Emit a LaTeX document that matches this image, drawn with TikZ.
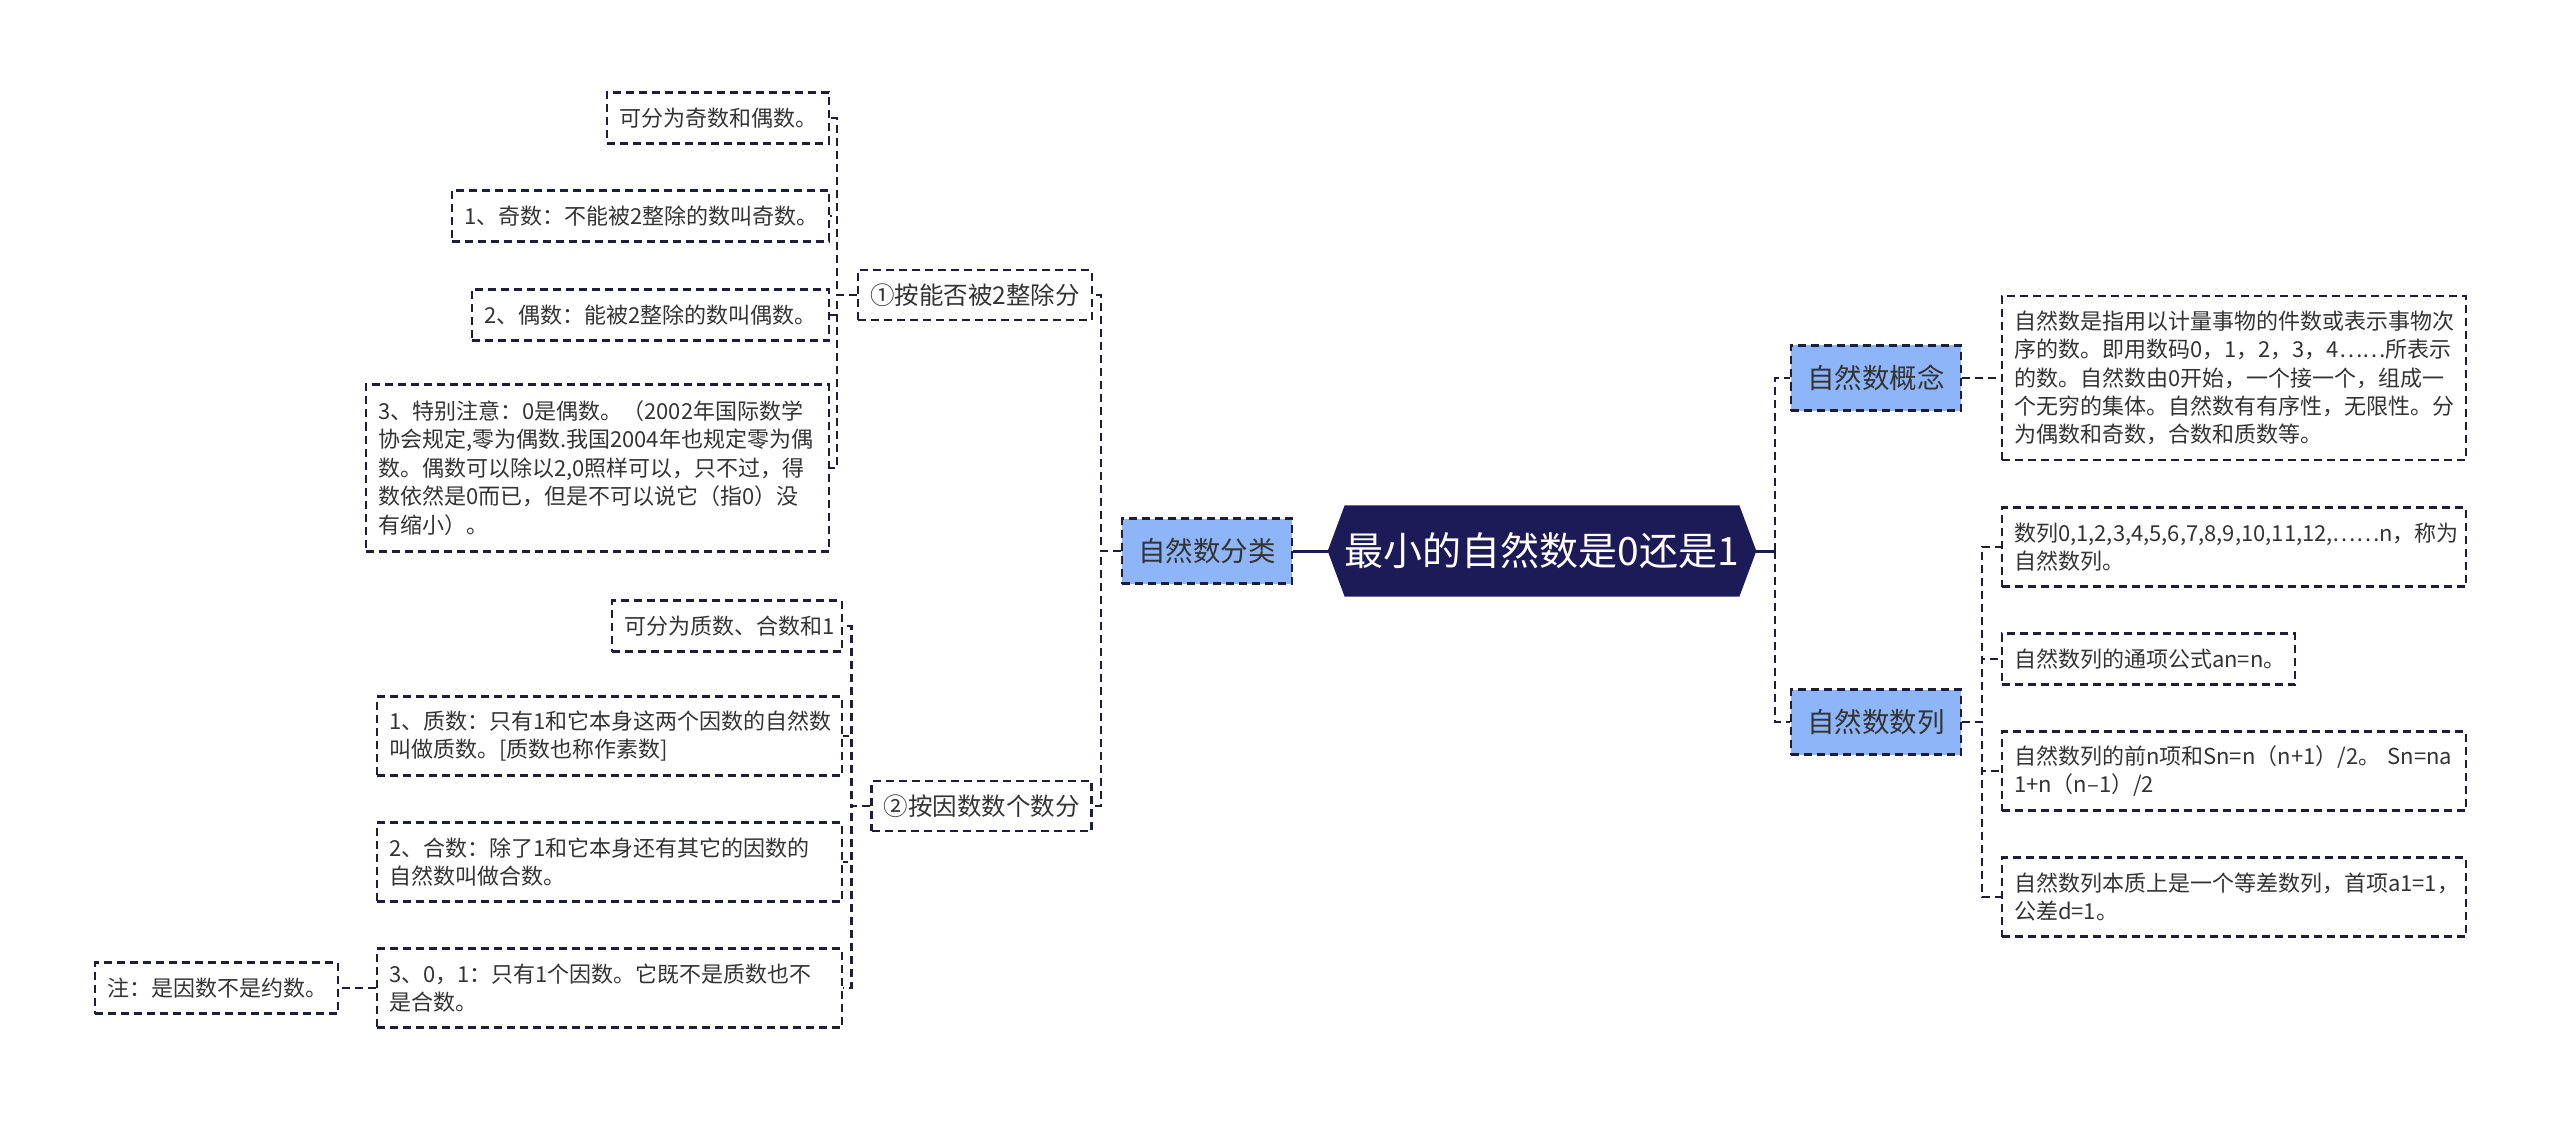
\documentclass[tikz,border=0pt]{standalone}
\usepackage{fontspec}
\setmainfont{Noto Sans CJK SC}
\usetikzlibrary{calc,backgrounds}
\definecolor{rootc}{HTML}{1D1B57}
\definecolor{linec}{HTML}{1E1E3A}
\definecolor{mainc}{HTML}{8DB5F8}
\definecolor{textc}{HTML}{333333}

\begin{document}
\begin{tikzpicture}[x=1pt,y=-1pt,
  leaf/.style={draw=linec,line width=2.2pt,dash pattern=on 8pt off 5pt,text=textc,
    align=left,inner xsep=12pt,inner ysep=0pt,font=\fontsize{22}{28.4}\selectfont},
  sub/.style={leaf,align=center,font=\fontsize{24.5}{30}\selectfont,minimum height=50pt},
  main/.style={draw=linec,line width=2.2pt,dash pattern=on 8pt off 5pt,fill=mainc,text=textc,
    font=\fontsize{27.5}{33}\selectfont,minimum width=170pt,minimum height=65pt,inner sep=0pt},
  rootbox/.style={text=white,font=\fontsize{39}{46}\selectfont,minimum width=386pt,
    minimum height=91pt,inner sep=0pt},
  link/.style={draw=linec,line width=2.2pt,dash pattern=on 8pt off 5pt},
  trunk/.style={draw=rootc,line width=3pt}]
  \useasboundingbox (0,0) rectangle (2560,1123);

  % centre
  \node[rootbox] (root) at (1542,551) {最小的自然数是0还是1};
  \coordinate (rootL) at ($(root.west)+(-17,0)$);
  \coordinate (rootR) at ($(root.east)+(17,0)$);
  \begin{scope}[on background layer]
    \fill[rootc] (rootL) -- (root.north west) -- (root.north east) -- (rootR)
      -- (root.south east) -- (root.south west) -- cycle;
  \end{scope}

  % left half
  \node[main] (cls) at (1207,551) {自然数分类};
  \node[sub,minimum width=212pt] (c1) at (975,295) {①按能否被2整除分};
  \node[sub,minimum width=199pt] (c2) at (981.5,806) {②按因数数个数分};

  \node[leaf,text width=198pt,minimum height=51pt] (a0) at (718,118) {可分为奇数和偶数。};
  \node[leaf,text width=353pt,minimum height=51pt] (a1) at (640.5,216) {1、奇数：不能被2整除的数叫奇数。};
  \node[leaf,text width=333pt,minimum height=51pt] (a2) at (650.5,315) {2、偶数：能被2整除的数叫偶数。};
  \node[leaf,text width=439pt,minimum height=167pt] (a3) at (597.5,468)
    {3、特别注意：0是偶数。（2002年国际数学\\协会规定,零为偶数.我国2004年也规定零为偶\\数。偶数可以除以2,0照样可以，只不过，得\\数依然是0而已，但是不可以说它（指0）没\\有缩小）。};

  \node[leaf,text width=206pt,minimum height=51pt] (b0) at (727,626) {可分为质数、合数和1};
  \node[leaf,text width=441pt,minimum height=79pt] (b1) at (609.5,736)
    {1、质数：只有1和它本身这两个因数的自然数\\叫做质数。[质数也称作素数]};
  \node[leaf,text width=441pt,minimum height=79pt] (b2) at (609.5,862)
    {2、合数：除了1和它本身还有其它的因数的\\自然数叫做合数。};
  \node[leaf,text width=441pt,minimum height=79pt] (b3) at (609.5,988)
    {3、0，1：只有1个因数。它既不是质数也不\\是合数。};
  \node[leaf,text width=219pt,minimum height=51pt] (note) at (216.5,988) {注：是因数不是约数。};

  % right half
  \node[main] (idea) at (1876,378) {自然数概念};
  \node[main] (seq) at (1876,722) {自然数数列};

  \node[leaf,text width=440pt,minimum height=164pt] (d0) at (2234,378)
    {自然数是指用以计量事物的件数或表示事物次\\序的数。即用数码0，1，2，3，4……所表示\\的数。自然数由0开始，一个接一个，组成一\\个无穷的集体。自然数有有序性，无限性。分\\为偶数和奇数，合数和质数等。};
  \node[leaf,text width=440pt,minimum height=79pt] (e0) at (2234,547)
    {数列0,1,2,3,4,5,6,7,8,9,10,11,12,……n，称为\\自然数列。};
  \node[leaf,text width=269pt,minimum height=51pt] (e1) at (2148.5,659) {自然数列的通项公式an=n。};
  \node[leaf,text width=440pt,minimum height=79pt] (e2) at (2234,771)
    {自然数列的前n项和Sn=n（n+1）/2。 Sn=na\\1+n（n–1）/2};
  \node[leaf,text width=440pt,minimum height=79pt] (e3) at (2234,897)
    {自然数列本质上是一个等差数列，首项a1=1，\\公差d=1。};

  % connectors
  \draw[trunk] (rootL) -- (cls.east);
  \draw[trunk] (rootR) -- ++(19,0) coordinate (rt);
  \foreach \n in {idea,seq}
    \draw[link] (rt) |- (\n.west);
  \foreach \n in {c1,c2}
    \draw[link] (cls.west) -- ++(-20,0) |- (\n.east);
  \foreach \n in {a0,a1,a2,a3}
    \draw[link] (c1.west) -- ++(-20,0) |- (\n.east);
  \foreach \n in {b0,b1,b2,b3}
    \draw[link] (c2.west) -- ++(-19,0) |- (\n.east);
  \draw[link] (b3.west) -- (note.east);
  \draw[link] (idea.east) -- (d0.west);
  \foreach \n in {e0,e1,e2,e3}
    \draw[link] (seq.east) -- ++(20,0) |- (\n.west);
\end{tikzpicture}
\end{document}
